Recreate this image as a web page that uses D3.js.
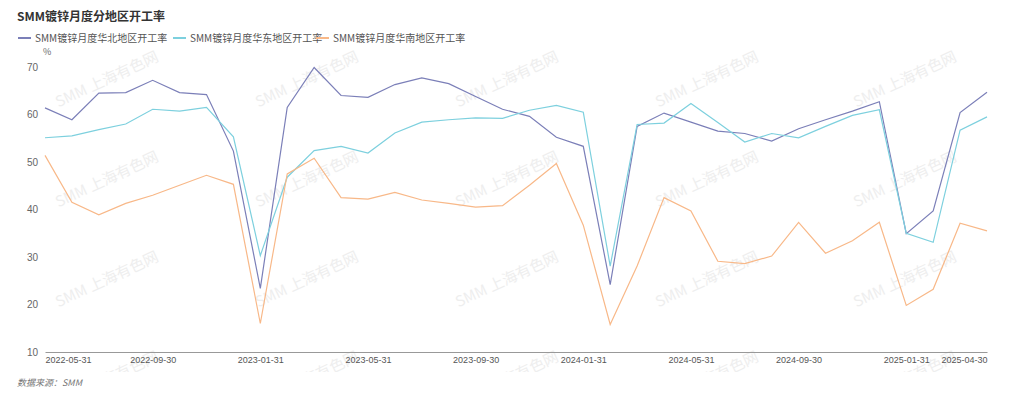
<!DOCTYPE html>
<html><head><meta charset="utf-8">
<script src="https://cdn.jsdelivr.net/npm/d3@7/dist/d3.min.js"></script>
<style>
body{margin:0;background:#fff;}
svg{display:block;font-family:"Noto Sans CJK SC","Noto Sans",sans-serif;}
</style></head>
<body><svg id="c" width="1024" height="399"></svg>
<script>
const title = "SMM镀锌月度分地区开工率";
const seriesNames = ["SMM镀锌月度华北地区开工率","SMM镀锌月度华东地区开工率","SMM镀锌月度华南地区开工率"];
const colors = ["#7b7fb8","#7dd0de","#f8b888"];
const months = (function(){const a=[];let y=2022,m=5;for(let i=0;i<36;i++){const d=new Date(Date.UTC(y,m,0));a.push(d.toISOString().slice(0,10));m++;if(m>12){m=1;y++;}}return a;})();
const north = [61.4,58.9,64.5,64.6,67.2,64.6,64.2,52.3,23.4,61.5,69.9,64.0,63.6,66.3,67.7,66.5,63.8,61.1,59.6,55.2,53.3,24.2,57.5,60.3,58.4,56.5,56.0,54.4,57.0,58.9,60.7,62.7,34.9,39.7,60.4,64.7];
const east  = [55.1,55.5,56.8,58.0,61.1,60.7,61.5,55.3,30.3,46.8,52.4,53.3,51.9,56.1,58.4,58.9,59.3,59.2,60.9,61.9,60.5,28.1,57.9,58.2,62.3,58.3,54.2,56.0,55.1,57.5,59.8,61.0,35.0,33.1,56.7,59.5];
const south = [51.4,41.5,38.9,41.3,43.0,45.1,47.2,45.3,16.0,47.5,50.8,42.5,42.2,43.6,42.0,41.3,40.5,40.8,45.1,49.7,36.7,15.8,28.1,42.5,39.7,29.1,28.6,30.2,37.3,30.8,33.4,37.3,19.8,23.2,37.1,35.5];
const yTicks = [10,20,30,40,50,60,70];
const xLabelIdx = [0,4,8,12,16,20,24,28,32,35];
const watermark = "SMM 上海有色网";

const svg = d3.select("#c");
const W=1024,H=399;
const m = {left:45,right:37,top:67,bottom:47};
const x = d3.scalePoint().domain(months).range([m.left, W-m.right]);
const y = d3.scaleLinear().domain([10,70]).range([H-m.bottom, m.top]);

// watermark (clipped like the original canvas area)
svg.append("clipPath").attr("id","wmclip").append("rect").attr("x",0).attr("y",0).attr("width",W).attr("height",372);
const wm = svg.append("g").attr("clip-path","url(#wmclip)");
[60,260,460,660,858].forEach(cx=>{
  [80,180,280,380].forEach(cy=>{
    wm.append("text").attr("transform",`translate(${cx+49},${cy+4}) rotate(-25)`)
      .attr("text-anchor","middle").attr("font-size",15).attr("fill","#eeeeee").text(watermark);
  });
});

svg.append("text").attr("x",17).attr("y",21).attr("font-size",12).attr("font-weight","bold").attr("fill","#333").text(title);

// legend
const legX=[18,173,316];
seriesNames.forEach((n,i)=>{
  svg.append("line").attr("x1",legX[i]).attr("x2",legX[i]+13).attr("y1",38).attr("y2",38).attr("stroke",colors[i]).attr("stroke-width",2);
  svg.append("text").attr("x",legX[i]+17).attr("y",41.5).attr("font-size",10).attr("fill","#555").text(n);
});
svg.append("text").attr("x",43).attr("y",55).attr("font-size",9).attr("fill","#666").text("%");

// y axis
const ya = svg.append("g").attr("transform",`translate(${m.left},0)`).call(d3.axisLeft(y).tickValues(yTicks).tickSize(0).tickPadding(7));
ya.select(".domain").remove();
ya.selectAll("text").attr("font-size",10).attr("fill","#666").style("font-family","inherit");

// x axis
const xa = svg.append("g").attr("transform",`translate(0,${H-m.bottom})`).call(d3.axisBottom(x).tickValues(xLabelIdx.map(i=>months[i])).tickSize(0).tickPadding(5));
xa.select(".domain").attr("stroke","#999");
xa.selectAll("text").attr("font-size",9).attr("fill","#555").style("font-family","inherit")
  .attr("text-anchor",(d,i)=> i===0?"start":(i===xLabelIdx.length-1?"end":"middle"));

// lines
const line = d3.line().x((d,i)=>x(months[i])).y(d=>y(d));
[north,east,south].forEach((s,i)=>{
  svg.append("path").datum(s).attr("d",line).attr("fill","none").attr("stroke",colors[i]).attr("stroke-width",1.2);
});

svg.append("text").attr("x",17).attr("y",386).attr("font-size",9).attr("font-style","italic").attr("fill","#777").text("数据来源：SMM");
</script></body></html>
